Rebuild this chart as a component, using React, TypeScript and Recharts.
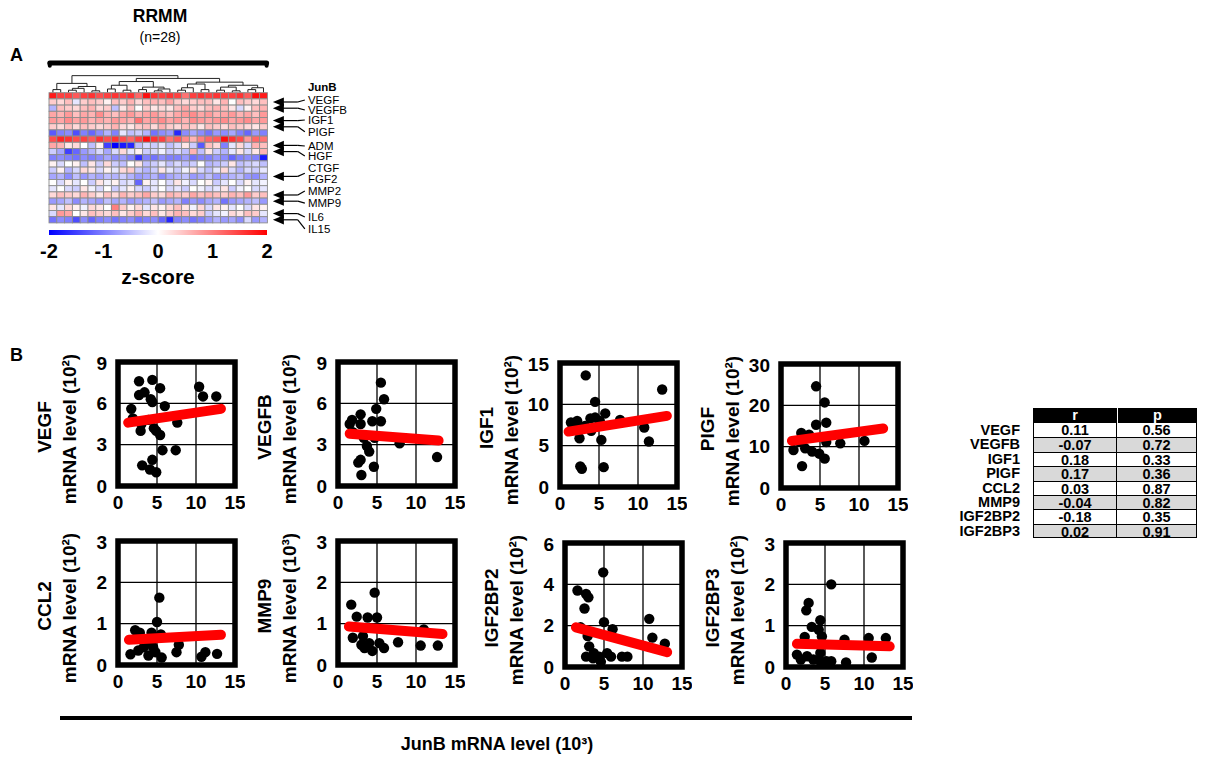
import React from "react";
import {
  CartesianGrid,
  ReferenceArea,
  ReferenceLine,
  Scatter,
  ScatterChart,
  XAxis,
  YAxis,
} from "recharts";

const FONT = "Arial, 'Liberation Sans', Helvetica, sans-serif";

// ---- panel A: heatmap (21 genes x 28 RRMM samples), z-scores ----
const heatmapRows: number[][] = [
  [1.8, 1.5, 1.5, 1.3, 1.5, 1.6, 1.4, 1.5, 1.6, 1.5, 1.6, 1.2, 1.9, 1.6, 1.5, 1.6, 1.5, 1.1, 1.5, 1.6, 1.5, 1.6, 1.5, 1.5, 1.6, 1.3, 1.9, 1.8],
  [0.4, 0.3, 0.5, -0.2, 0.4, 0.5, 0.4, 0.1, 0.5, 0.4, 0.6, 0.3, 0.5, 0.6, 0.5, 0.7, 0.4, 0.3, 0.4, 0.5, 0.5, 0.2, 0.6, 0.0, 0.5, 0.4, 0.3, 0.5],
  [-0.6, 0.5, 0.4, 0.3, 0.5, 0.6, 0.3, 0.4, -0.5, 0.2, 0.5, 0.0, 0.4, 0.2, 0.3, 0.2, 0.5, 0.7, 0.4, 0.3, 0.5, 0.6, 0.5, 0.2, -0.3, 0.1, 0.5, 0.6],
  [0.7, 0.6, 0.8, 0.5, 0.7, 0.6, 0.9, 0.6, 0.5, 0.7, 0.8, 0.6, 0.7, 0.8, 0.6, 0.5, 0.7, 0.8, 0.9, 0.7, 0.8, 0.6, 0.7, 0.8, 0.6, 0.7, 0.5, 0.8],
  [0.8, 0.7, 0.9, 0.7, 0.8, 0.6, 0.7, 0.6, 0.8, 0.7, 0.6, 1.1, 0.7, 0.8, 0.9, 0.7, 0.8, 0.6, 0.9, 0.8, 0.7, 0.8, 0.9, 0.7, 0.8, 0.9, 0.7, 0.8],
  [0.4, 0.3, 0.5, 0.3, 0.5, 0.4, 0.3, 0.4, 0.6, 0.3, 0.2, 0.4, 0.5, 0.3, 0.6, 0.4, 0.3, 0.5, 0.4, 0.2, 0.5, 0.4, 0.3, 0.5, 0.4, 0.3, 0.2, 0.4],
  [-1.3, -1.0, -0.9, -1.4, -1.0, -1.2, -0.9, -0.6, -1.0, -0.2, -0.5, -0.4, -0.6, -1.1, -0.9, -0.8, -1.7, -0.9, -0.7, -0.9, -1.1, -0.8, -0.9, -0.7, -1.0, -1.2, -0.8, -1.0],
  [1.4, 1.7, 1.6, 1.4, 1.5, 1.3, 1.6, 1.4, 1.6, 1.4, 1.2, 1.5, 1.9, 1.6, 1.5, 1.1, 1.3, 0.9, 0.6, 1.0, 1.2, 1.3, 1.9, 1.6, 1.4, 0.8, 1.2, 1.1],
  [0.7, 0.6, 0.2, 0.3, 0.0, -0.5, 0.1, -1.5, -2.0, -1.8, -1.7, -0.5, -0.3, -0.4, -0.2, -0.5, -0.3, 0.2, -0.4, -1.3, 0.5, 0.3, -1.0, -0.2, 0.3, -0.3, 0.6, 0.5],
  [-0.4, -0.7, -1.5, -1.2, -0.8, -0.6, -0.3, -0.7, -0.3, 0.3, -0.2, 0.1, -0.4, -0.3, -0.1, -0.4, -0.3, -0.5, 0.6, -0.5, 0.2, -0.4, -0.6, -0.2, 0.2, -0.3, 0.2, 0.6],
  [-1.0, -0.9, -1.0, -1.1, -0.9, -1.0, -0.9, -0.7, -0.9, -0.8, -1.0, -1.6, -1.0, -1.1, -0.9, -1.0, -1.0, -0.8, -1.1, -1.0, -1.0, -0.8, -0.9, -1.2, -1.0, -0.9, -1.0, -1.8],
  [0.1, -0.3, 0.0, 0.1, -0.5, 0.2, -0.4, 0.3, -0.4, -0.5, 0.0, 0.2, -0.5, -0.4, -0.2, -0.5, -0.3, -0.5, -0.4, 0.0, -0.6, -0.5, -0.4, 0.2, -0.5, -0.4, -0.3, -0.5],
  [-0.4, 0.1, -0.6, -0.3, 0.3, 0.2, -0.3, 0.1, -0.2, 0.3, 0.4, -0.4, -0.6, -0.4, 0.2, -0.2, -0.4, -0.1, 0.2, -0.3, -0.5, -0.2, 0.3, -0.3, -0.6, -0.3, -0.4, -0.2],
  [-0.7, -0.6, -0.9, -0.5, -0.8, -0.6, -0.7, -0.5, -0.6, -0.4, -0.6, -0.8, -0.7, -0.6, -0.9, -0.7, -0.6, -0.5, -0.8, -0.7, -0.5, -0.8, -0.7, -0.6, -0.5, -0.8, -0.9, -0.6],
  [0.0, -0.3, 0.1, -0.2, 0.0, -0.4, 0.2, -0.1, 0.1, -0.3, -0.2, -1.2, 0.1, -0.2, 0.0, -0.3, 0.2, -0.1, -0.3, 0.0, 0.1, -0.4, -0.2, 0.0, -0.3, 0.1, -0.2, -0.1],
  [-0.2, 0.0, -0.3, -0.4, 0.2, -0.1, -0.3, 0.0, -0.4, -0.2, 0.1, -0.3, -0.4, -0.2, 0.0, -0.3, -0.2, -0.4, 0.0, -0.1, -0.3, -0.2, 0.2, -0.4, -0.1, 0.0, -0.3, -0.2],
  [0.3, 0.5, 0.4, 0.3, 0.6, 0.4, 0.2, 0.5, 0.3, 0.6, 0.4, 0.5, 0.7, 0.4, 0.3, 0.6, 0.5, 0.4, 0.7, 0.5, 0.6, 0.5, 0.4, 0.6, 0.5, 0.8, 0.4, 0.5],
  [-0.8, -0.7, -0.5, -0.9, -0.6, -0.7, -0.8, -0.5, -0.7, -0.6, -0.8, -0.7, -0.6, -0.5, -0.8, -0.7, -0.6, -1.0, -0.8, -0.9, -0.7, -0.6, -1.1, -0.8, -0.7, -0.6, -0.5, -0.8],
  [0.2, -0.2, 0.3, 0.1, -0.1, 0.3, 0.2, 0.0, 1.0, 0.4, 0.1, 0.3, -0.2, 0.2, 0.1, 0.3, 0.5, 0.2, -0.1, 0.3, -0.3, 0.2, 0.1, -0.2, 0.0, -0.3, 0.2, 0.1],
  [-0.3, 0.8, 0.7, 0.0, 0.2, 0.5, 0.4, 0.3, 0.5, 0.2, 0.4, 0.6, 0.3, 0.5, 0.2, 0.4, 0.6, 0.5, 0.3, 0.4, -0.4, -0.2, -0.1, 0.3, 0.2, 0.5, 0.4, -0.2],
  [-1.1, -0.9, -1.0, -1.4, -0.9, -1.2, -1.0, -0.9, -1.1, -1.0, -0.9, -1.1, -1.0, -0.9, -1.2, -1.7, -1.0, -0.9, -1.1, -1.0, -0.8, -0.6, -0.8, -0.7, -0.9, -0.3, -0.8, -0.6],
];

// gene labels right of the heatmap (position in row units)
const geneLabels = ["JunB", "VEGF", "VEGFB", "IGF1", "PIGF", "ADM", "HGF", "CTGF", "FGF2", "MMP2", "MMP9", "IL6", "IL15"];
const geneLabelRows = [-0.97, 1.18, 2.79, 4.4, 6.29, 8.6, 10.2, 12.15, 13.9, 15.85, 17.8, 20.05, 21.98];

// arrows: heatmap row they point at, and where their leader line ends
const arrowRows = [1, 2, 4, 5, 8, 9, 13, 16, 17, 19, 20];
const arrowEnds = [1.18, 2.79, 4.4, 6.29, 8.6, 10.2, 13.0, 15.85, 17.8, 20.05, 21.98];

// dendrogram links: [left x, right x, height, left child height, right child height]
const dendrogram: number[][] = [
  [0.5, 1.5, 0.5, 0, 0],
  [2.5, 3.5, 0.4, 0, 0],
  [3.0, 4.5, 0.7, 0.4, 0],
  [5.5, 6.5, 0.3, 0, 0],
  [3.75, 6.0, 1.0, 0.7, 0.3],
  [1.0, 4.875, 1.5, 0.5, 1.0],
  [7.5, 8.5, 0.6, 0, 0],
  [9.5, 10.5, 0.4, 0, 0],
  [8.0, 10.0, 1.2, 0.6, 0.4],
  [11.5, 12.5, 0.5, 0, 0],
  [13.5, 14.5, 0.3, 0, 0],
  [14.0, 15.5, 0.6, 0.3, 0],
  [12.0, 14.75, 0.9, 0.5, 0.6],
  [9.0, 13.375, 1.8, 1.2, 0.9],
  [16.5, 17.5, 0.4, 0, 0],
  [17.0, 18.5, 0.8, 0.4, 0],
  [19.5, 20.5, 0.5, 0, 0],
  [17.75, 20.0, 1.4, 0.8, 0.5],
  [21.5, 22.5, 0.4, 0, 0],
  [23.5, 24.5, 0.3, 0, 0],
  [22.0, 24.0, 0.9, 0.4, 0.3],
  [25.5, 26.5, 0.5, 0, 0],
  [26.0, 27.5, 0.8, 0.5, 0],
  [23.0, 26.75, 1.2, 0.9, 0.8],
  [18.875, 24.875, 1.7, 1.4, 1.2],
  [11.19, 21.875, 2.3, 1.8, 1.7],
  [2.94, 16.53, 2.75, 1.5, 2.3],
];

const zTicks = [-2, -1, 0, 1, 2];

// ---- panel B: JunB (10^3) vs gene mRNA level ----
const vegfPoints = [[2.7, 7.6], [4.4, 7.7], [5.4, 7.1], [2.7, 6.6], [3.4, 6.8], [4.2, 6.3], [4.4, 6.1], [6.0, 5.8], [1.7, 5.6], [1.9, 4.9], [3.0, 4.5], [3.9, 4.8], [2.9, 4.0], [4.6, 4.2], [4.9, 4.0], [5.4, 3.7], [7.6, 4.6], [5.7, 2.6], [7.4, 2.6], [3.1, 1.5], [4.4, 1.9], [4.1, 1.2], [4.9, 1.0], [10.4, 7.2], [10.9, 6.5], [12.6, 6.5]];
const vegfbPoints = [[5.5, 7.5], [5.9, 6.3], [4.9, 5.6], [2.9, 5.2], [1.8, 4.8], [2.9, 4.5], [4.4, 4.7], [5.5, 4.7], [3.3, 3.5], [3.7, 2.9], [4.0, 2.5], [2.9, 1.9], [2.6, 1.7], [3.0, 0.8], [4.6, 1.4], [7.9, 3.1], [12.7, 2.1], [1.9, 3.9], [4.7, 3.5], [1.5, 4.5]];
const igf1Points = [[3.3, 13.5], [13.1, 11.8], [4.5, 10.3], [1.4, 7.8], [2.2, 8.0], [3.9, 8.3], [4.5, 8.4], [5.8, 8.9], [5.1, 8.0], [4.0, 6.8], [2.5, 5.9], [5.3, 5.7], [10.8, 7.2], [11.4, 5.5], [2.6, 2.5], [2.8, 2.2], [5.6, 2.4], [7.7, 8.1], [3.2, 7.4], [1.8, 7.0]];
const pigfPoints = [[4.5, 24.6], [5.6, 20.7], [5.8, 15.8], [4.5, 15.3], [2.6, 13.3], [3.6, 12.9], [1.6, 9.2], [2.7, 5.3], [5.6, 7.1], [4.9, 8.3], [4.0, 8.8], [3.1, 9.6], [7.6, 10.8], [10.7, 11.4], [5.8, 11.1], [2.3, 11.3]];
const ccl2Points = [[5.3, 1.63], [5.0, 1.04], [2.2, 0.84], [2.8, 0.78], [4.3, 0.78], [5.5, 0.74], [7.8, 0.49], [7.5, 0.31], [1.6, 0.26], [2.6, 0.35], [3.3, 0.43], [3.9, 0.23], [4.5, 0.43], [5.6, 0.18], [10.7, 0.2], [11.2, 0.31], [12.7, 0.27], [3.7, 0.55], [4.8, 0.31]];
const mmp9Points = [[4.7, 1.75], [1.7, 1.46], [2.4, 1.17], [3.8, 1.15], [5.0, 1.15], [1.9, 0.66], [3.0, 0.49], [3.4, 0.41], [4.4, 0.34], [5.3, 0.53], [5.9, 0.41], [7.7, 0.55], [10.6, 0.47], [12.8, 0.47], [4.0, 0.53], [11.0, 0.86], [3.2, 0.7]];
const igf2bp2Points = [[4.9, 4.58], [1.6, 3.7], [2.7, 3.53], [3.0, 3.37], [2.5, 2.83], [5.0, 2.17], [6.1, 1.83], [10.8, 2.33], [11.2, 1.42], [12.8, 1.13], [2.9, 1.5], [3.1, 1.0], [3.7, 0.67], [4.4, 0.5], [2.7, 0.5], [5.4, 0.67], [5.9, 0.5], [7.3, 0.5], [8.0, 0.5], [4.6, 0.25], [3.6, 0.42], [2.0, 1.92]];
const igf2bp3Points = [[5.8, 2.0], [2.9, 1.55], [2.6, 1.37], [4.4, 1.13], [3.3, 0.97], [4.2, 0.9], [2.4, 0.73], [4.6, 0.74], [7.5, 0.66], [10.6, 0.7], [12.8, 0.7], [11.0, 0.23], [1.4, 0.3], [2.7, 0.26], [3.5, 0.18], [4.4, 0.14], [5.2, 0.14], [5.8, 0.14], [7.7, 0.11], [4.4, 0.34], [1.9, 0.18]];

// regression line end points
const vegfFit = [[1.3, 4.6], [13.2, 5.6]];
const vegfbFit = [[1.5, 3.8], [12.9, 3.3]];
const igf1Fit = [[1.1, 6.7], [13.7, 8.6]];
const pigfFit = [[1.4, 11.4], [13.1, 14.4]];
const ccl2Fit = [[1.4, 0.61], [13.2, 0.73]];
const mmp9Fit = [[1.4, 0.93], [13.4, 0.75]];
const igf2bp2Fit = [[1.4, 1.92], [13.1, 0.72]];
const igf2bp3Fit = [[1.4, 0.56], [13.3, 0.5]];

const junbTicks = [0, 5, 10, 15];

// correlation table
const tableGenes = ["VEGF", "VEGFB", "IGF1", "PIGF", "CCL2", "MMP9", "IGF2BP2", "IGF2BP3"];
const tableR = ["0.11", "-0.07", "0.18", "0.17", "0.03", "-0.04", "-0.18", "0.02"];
const tableP = ["0.56", "0.72", "0.33", "0.36", "0.87", "0.82", "0.35", "0.91"];

function zColor(z: number): string {
  const t = Math.min(1, Math.abs(z) / 2);
  const v = Math.round(255 * (1 - t));
  return z >= 0 ? `rgb(255,${v},${v})` : `rgb(${v},${v},255)`;
}

const COL_W = 7.8;
const ROW_H = 6.2;
const HM_LEFT = 49;
const HM_TOP = 92.7;
const HM_X: [number, number] = [0, 40];
const HM_Y: [number, number] = [-5.5, 22.5];

function Heatmap() {
  const cells = heatmapRows.flatMap((row, r) =>
    row.map((z, c) => ({ x: c + 0.5, y: r + 0.5, z }))
  );
  const labels = geneLabels.map((name, i) => ({ x: 33.2, y: geneLabelRows[i], name }));
  const tips = arrowRows.map((r) => ({ x: 28.7, y: r + 0.5 }));
  const top = HM_TOP + HM_Y[0] * ROW_H;
  const plotH = (HM_Y[1] - HM_Y[0]) * ROW_H;
  const plotW = (HM_X[1] - HM_X[0]) * COL_W;

  return (
    <div style={{ position: "absolute", left: 0, top: 0 }}>
      <ScatterChart
        width={HM_LEFT + plotW + 10}
        height={top + plotH + 16}
        margin={{ top, right: 10, bottom: 16, left: HM_LEFT }}
      >
        <XAxis type="number" dataKey="x" domain={HM_X} hide />
        <YAxis type="number" dataKey="y" domain={HM_Y} hide reversed />
        {/* bracket over the RRMM samples */}
        <ReferenceLine segment={[{ x: 0.1, y: -4.8 }, { x: 27.9, y: -4.8 }]} stroke="#000" strokeWidth={5} strokeLinecap="round" ifOverflow="visible" />
        <ReferenceLine segment={[{ x: 0.1, y: -4.8 }, { x: 0.1, y: -4.35 }]} stroke="#000" strokeWidth={4} strokeLinecap="round" ifOverflow="visible" />
        <ReferenceLine segment={[{ x: 27.9, y: -4.8 }, { x: 27.9, y: -4.35 }]} stroke="#000" strokeWidth={4} strokeLinecap="round" ifOverflow="visible" />
        {dendrogram.map(([lx, rx, h, lh, rh], i) => (
          <React.Fragment key={`d${i}`}>
            <ReferenceLine segment={[{ x: lx, y: -lh }, { x: lx, y: -h }]} stroke="#222" strokeWidth={1} ifOverflow="visible" />
            <ReferenceLine segment={[{ x: lx, y: -h }, { x: rx, y: -h }]} stroke="#222" strokeWidth={1} ifOverflow="visible" />
            <ReferenceLine segment={[{ x: rx, y: -h }, { x: rx, y: -rh }]} stroke="#222" strokeWidth={1} ifOverflow="visible" />
          </React.Fragment>
        ))}
        <Scatter
          data={cells}
          isAnimationActive={false}
          shape={(p: any) => (
            <rect
              x={p.cx - COL_W / 2}
              y={p.cy - ROW_H / 2}
              width={COL_W}
              height={ROW_H}
              fill={zColor(p.payload.z)}
              stroke="#8c8c8c"
              strokeWidth={0.9}
            />
          )}
        />
        {arrowRows.map((r, i) => (
          <React.Fragment key={`a${i}`}>
            <ReferenceLine segment={[{ x: 29.6, y: r + 0.5 }, { x: 31.9, y: r + 0.5 }]} stroke="#000" strokeWidth={1.2} ifOverflow="visible" />
            <ReferenceLine segment={[{ x: 31.9, y: r + 0.5 }, { x: 32.8, y: arrowEnds[i] }]} stroke="#000" strokeWidth={1.2} ifOverflow="visible" />
          </React.Fragment>
        ))}
        <Scatter
          data={tips}
          isAnimationActive={false}
          shape={(p: any) => (
            <polygon
              points={`${p.cx},${p.cy} ${p.cx + 11},${p.cy - 4.6} ${p.cx + 11},${p.cy + 4.6}`}
              fill="#000"
            />
          )}
        />
        <Scatter
          data={labels}
          isAnimationActive={false}
          shape={(p: any) => (
            <text
              x={p.cx}
              y={p.cy}
              dominantBaseline="central"
              fontFamily={FONT}
              fontSize={11.5}
              fontWeight={p.payload.name === "JunB" ? 700 : 400}
              fill="#000"
            >
              {p.payload.name}
            </text>
          )}
        />
      </ScatterChart>
    </div>
  );
}

function ColorBar() {
  return (
    <div style={{ position: "absolute", left: 0, top: 222 }}>
      <ScatterChart width={300} height={66} margin={{ top: 8, right: 33, bottom: 2, left: HM_LEFT }}>
        <defs>
          <linearGradient id="zscale" x1="0" y1="0" x2="1" y2="0">
            <stop offset="0%" stopColor="#0000ff" />
            <stop offset="50%" stopColor="#ffffff" />
            <stop offset="100%" stopColor="#ff0000" />
          </linearGradient>
        </defs>
        <XAxis
          type="number"
          dataKey="x"
          domain={[-2, 2]}
          ticks={zTicks}
          allowDataOverflow
          axisLine={false}
          tickLine={false}
          height={51}
          tickMargin={3}
          tick={{ fill: "#000", fontSize: 20, fontWeight: 700, fontFamily: FONT }}
          label={{ value: "z-score", position: "insideBottom", offset: 2, fill: "#000", fontSize: 21, fontWeight: 700, fontFamily: FONT }}
        />
        <YAxis type="number" dataKey="y" domain={[0, 1]} hide allowDataOverflow />
        <ReferenceArea x1={-2} x2={2} y1={0} y2={1} fill="url(#zscale)" fillOpacity={1} stroke="none" ifOverflow="visible" />
      </ScatterChart>
    </div>
  );
}

function AxisTitle(props: any) {
  const vb = props.viewBox ?? { x: 0, y: 10, width: 85, height: 124 };
  const right = vb.x + vb.width;
  const cy = vb.y + vb.height / 2;
  const gx = right - 74;
  const ux = right - 49;
  const style = { fontFamily: FONT, fontWeight: 700, fontSize: 19, fill: "#000" };
  return (
    <g>
      <text x={gx} y={cy + 3} transform={`rotate(-90 ${gx} ${cy + 3})`} textAnchor="middle" dominantBaseline="central" {...style}>
        {props.gene}
      </text>
      <text x={ux} y={cy + 5} transform={`rotate(-90 ${ux} ${cy + 5})`} textAnchor="middle" dominantBaseline="central" {...style}>
        {`mRNA level (${props.unit})`}
      </text>
    </g>
  );
}

interface PanelProps {
  gene: string;
  unit: string;
  points: number[][];
  fit: number[][];
  yMax: number;
  yTicks: number[];
  left: number;
  top: number;
}

const tickStyle = { fill: "#000", fontSize: 19, fontWeight: 700, fontFamily: FONT };

function Panel({ gene, unit, points, fit, yMax, yTicks, left, top }: PanelProps) {
  const dots = points.map(([x, y]) => ({ x, y }));
  const line = fit.map(([x, y]) => ({ x, y }));
  return (
    <div style={{ position: "absolute", left: left - 85, top: top - 10 }}>
      <ScatterChart width={212} height={164} margin={{ top: 10, right: 10, bottom: 0, left: 0 }}>
        <CartesianGrid stroke="#000" strokeWidth={1.3} />
        <XAxis
          type="number"
          dataKey="x"
          domain={[0, 15]}
          ticks={junbTicks}
          axisLine={false}
          tickLine={false}
          height={30}
          tickMargin={4}
          tick={tickStyle}
        />
        <YAxis
          type="number"
          dataKey="y"
          domain={[0, yMax]}
          ticks={yTicks}
          axisLine={false}
          tickLine={false}
          width={85}
          tickMargin={5}
          tick={tickStyle}
          label={<AxisTitle gene={gene} unit={unit} />}
        />
        <ReferenceArea x1={0} x2={15} y1={0} y2={yMax} fill="none" stroke="#000" strokeWidth={5.5} ifOverflow="visible" />
        <Scatter
          data={dots}
          isAnimationActive={false}
          shape={(p: any) => <circle cx={p.cx} cy={p.cy} r={5.2} fill="#000" />}
        />
        <Scatter
          data={line}
          isAnimationActive={false}
          line={{ stroke: "#ff0000", strokeWidth: 10, strokeLinecap: "round" }}
          lineType="joint"
          shape={() => <g />}
        />
      </ScatterChart>
    </div>
  );
}

function CorrTable() {
  const rowH = 14.4;
  const x0 = 1033;
  const mid = 1117;
  const x1 = 1197;
  const top = 408;
  const cell = { position: "absolute" as const, textAlign: "center" as const, fontWeight: 700, fontSize: 14.5, lineHeight: `${rowH}px`, height: rowH };
  return (
    <div style={{ position: "absolute", left: 0, top: 0 }}>
      <div style={{ ...cell, left: x0, top, width: mid - x0, height: 15, background: "#000", color: "#fff", lineHeight: "15px" }}>r</div>
      <div style={{ ...cell, left: mid, top, width: x1 - mid, height: 15, background: "#000", color: "#fff", lineHeight: "15px", borderLeft: "1px solid #fff", boxSizing: "border-box" }}>p</div>
      {tableGenes.map((g, i) => {
        const y = top + 15 + i * rowH;
        const bg = i % 2 === 1 ? "#d9d9d9" : "#fff";
        const last = i === tableGenes.length - 1;
        return (
          <React.Fragment key={g}>
            <div style={{ ...cell, left: 920, top: y, width: 100, textAlign: "right" }}>{g}</div>
            <div style={{ ...cell, left: x0, top: y, width: mid - x0, background: bg, boxSizing: "border-box", borderLeft: "1px solid #000", borderRight: "1px solid #000", borderTop: i === 0 ? "none" : "1px solid #000", borderBottom: last ? "1px solid #000" : "none" }}>{tableR[i]}</div>
            <div style={{ ...cell, left: mid, top: y, width: x1 - mid, background: bg, boxSizing: "border-box", borderRight: "1px solid #000", borderTop: i === 0 ? "none" : "1px solid #000", borderBottom: last ? "1px solid #000" : "none" }}>{tableP[i]}</div>
          </React.Fragment>
        );
      })}
    </div>
  );
}

export default function App() {
  const text = { position: "absolute" as const, fontFamily: FONT, color: "#000", whiteSpace: "nowrap" as const };
  return (
    <div style={{ position: "absolute", left: 0, top: 0, width: 1207, height: 762, background: "#fff", fontFamily: FONT, overflow: "hidden" }}>
      <div style={{ ...text, left: 110, top: 6, width: 100, textAlign: "center", fontWeight: 700, fontSize: 17.5 }}>RRMM</div>
      <div style={{ ...text, left: 110, top: 29, width: 100, textAlign: "center", fontSize: 14 }}>(n=28)</div>
      <div style={{ ...text, left: 10, top: 45, fontWeight: 700, fontSize: 18 }}>A</div>
      <div style={{ ...text, left: 10, top: 345, fontWeight: 700, fontSize: 18 }}>B</div>

      <ColorBar />
      <Heatmap />

      <Panel gene="VEGF" unit="10²" points={vegfPoints} fit={vegfFit} yMax={9} yTicks={[0, 3, 6, 9]} left={118} top={362} />
      <Panel gene="VEGFB" unit="10²" points={vegfbPoints} fit={vegfbFit} yMax={9} yTicks={[0, 3, 6, 9]} left={338} top={362} />
      <Panel gene="IGF1" unit="10²" points={igf1Points} fit={igf1Fit} yMax={15} yTicks={[0, 5, 10, 15]} left={560} top={363} />
      <Panel gene="PIGF" unit="10²" points={pigfPoints} fit={pigfFit} yMax={30} yTicks={[0, 10, 20, 30]} left={781} top={364} />
      <Panel gene="CCL2" unit="10²" points={ccl2Points} fit={ccl2Fit} yMax={3} yTicks={[0, 1, 2, 3]} left={118} top={541} />
      <Panel gene="MMP9" unit="10³" points={mmp9Points} fit={mmp9Fit} yMax={3} yTicks={[0, 1, 2, 3]} left={338} top={541} />
      <Panel gene="IGF2BP2" unit="10²" points={igf2bp2Points} fit={igf2bp2Fit} yMax={6} yTicks={[0, 2, 4, 6]} left={565} top={543} />
      <Panel gene="IGF2BP3" unit="10²" points={igf2bp3Points} fit={igf2bp3Fit} yMax={3} yTicks={[0, 1, 2, 3]} left={786} top={543} />

      <div style={{ position: "absolute", left: 60, top: 716, width: 852, height: 4, background: "#000" }} />
      <div style={{ ...text, left: 380, top: 734, width: 234, textAlign: "center", fontWeight: 700, fontSize: 18 }}>JunB mRNA level (10³)</div>

      <CorrTable />
    </div>
  );
}
